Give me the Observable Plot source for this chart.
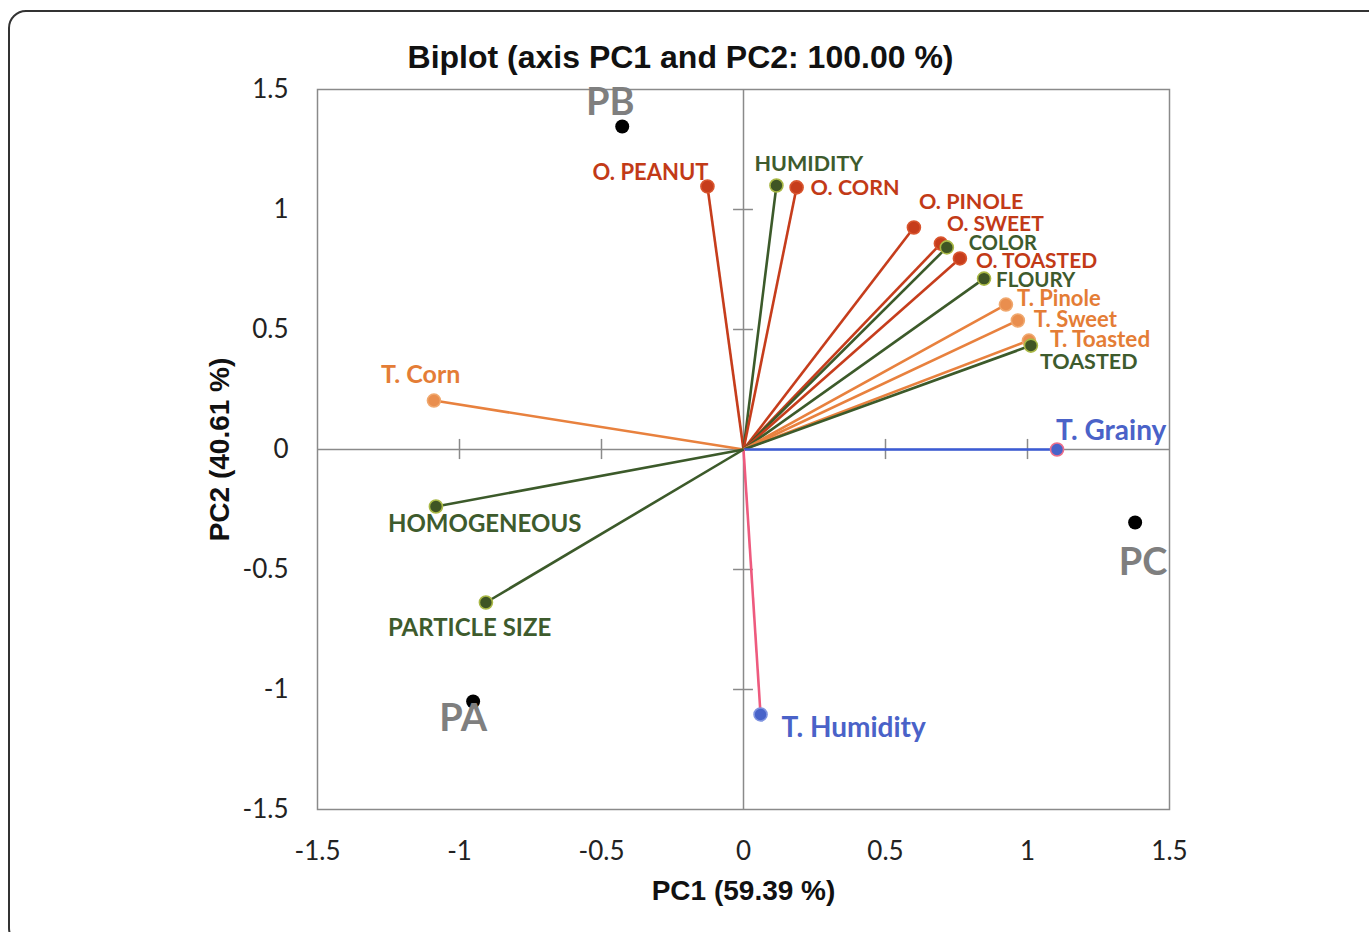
<!DOCTYPE html>
<html>
<head>
<meta charset="utf-8">
<script src="https://cdn.jsdelivr.net/npm/d3@7"></script>
<script src="https://cdn.jsdelivr.net/npm/@observablehq/plot@0.6"></script>
<style>
  html, body { margin: 0; padding: 0; background: #fff; }
  #wrap { position: relative; width: 1369px; height: 932px; overflow: hidden; }
  #border { position: absolute; left: 8px; top: 10px; width: 1400px; height: 936px;
            border: 2px solid #333; border-radius: 18px; box-sizing: border-box; }
  #chart { position: absolute; left: 0; top: 0; }
</style>
</head>
<body>
<div id="wrap"><div id="border"></div><div id="chart"></div></div>
<script>
// ---- data ----
const title = "Biplot (axis PC1 and PC2: 100.00 %)";
const xLabel = "PC1 (59.39 %)";
const yLabel = "PC2 (40.61 %)";
const tickValues = [-1.5, -1, -0.5, 0, 0.5, 1, 1.5];
const tickLabels = ["-1.5", "-1", "-0.5", "0", "0.5", "1", "1.5"];

// observations (samples)
const sampleNames = ["PB", "PA", "PC"];
const sampleX = [-0.427, -0.952, 1.379];
const sampleY = [1.346, -1.05, -0.304];

// variables (loadings)
const varNames = ["O. PEANUT", "HUMIDITY", "O. CORN", "O. PINOLE", "O. SWEET", "COLOR",
  "O. TOASTED", "FLOURY", "T. Pinole", "T. Sweet", "T. Toasted", "TOASTED",
  "T. Grainy", "T. Humidity", "T. Corn", "HOMOGENEOUS", "PARTICLE SIZE"];
const varGroup = ["odor", "attr", "odor", "odor", "odor", "attr",
  "odor", "attr", "taste", "taste", "taste", "attr",
  "texture", "texture2", "taste", "attr", "attr"];
const varX = [-0.127, 0.116, 0.187, 0.600, 0.695, 0.716, 0.762, 0.847, 0.924, 0.966, 1.005, 1.012,
  1.104, 0.060, -1.090, -1.083, -0.907];
const varY = [1.096, 1.100, 1.092, 0.925, 0.858, 0.842, 0.796, 0.712, 0.604, 0.5375, 0.454, 0.433,
  0.0, -1.104, 0.204, -0.2375, -0.6375];

// ---- styles ----
const groupStyle = {
  odor:     {line: "#c63d1c", fill: "#c63d1c", stroke: "#d9552e", label: "#c23a17"},
  attr:     {line: "#3c5a2a", fill: "#3f5524", stroke: "#a9b845", label: "#3e5b2d"},
  taste:    {line: "#e8813e", fill: "#e98e4e", stroke: "#f0a86e", label: "#e47d36"},
  texture:  {line: "#3b5bd6", fill: "#4863c9", stroke: "#ec6f8c", label: "#4a62c8"},
  texture2: {line: "#ee5a7e", fill: "#4863c9", stroke: "#7f94e0", label: "#4a62c8"}
};
// label placement relative to point: [dx, dy, anchor, fontSize]
const varLabelPlace = {
  "O. PEANUT": [1, -14, "end", 22], "HUMIDITY": [-22, -21, "start", 21.5],
  "O. CORN": [14, 1, "start", 21.5], "O. PINOLE": [5, -25, "start", 21.5],
  "O. SWEET": [6, -19, "start", 21], "COLOR": [22, -4, "start", 20],
  "O. TOASTED": [16, 3, "start", 21], "FLOURY": [12, 2, "start", 20.5],
  "T. Pinole": [11, -6, "start", 22], "T. Sweet": [16, -1, "start", 22],
  "T. Toasted": [21, -1, "start", 22.5], "TOASTED": [9, 17, "start", 21.5],
  "T. Grainy": [-1, -18, "start", 28], "T. Humidity": [21, 14, "start", 28],
  "T. Corn": [-53, -26, "start", 25], "HOMOGENEOUS": [-48, 18, "start", 24],
  "PARTICLE SIZE": [-98, 26, "start", 24]
};
const sampleLabelPlace = {"PB": [-12, -24], "PA": [-10, 17], "PC": [8, 40]};

const vars = varNames.map((n, i) => ({name: n, group: varGroup[i], x: varX[i], y: varY[i]}));
const samples = sampleNames.map((n, i) => ({name: n, x: sampleX[i], y: sampleY[i]}));
const innerTicks = tickValues.filter(v => v !== 0 && Math.abs(v) !== 1.5);

const labelFont = "Lato, 'Open Sans', sans-serif";
const arial = "'Liberation Sans', Arial, sans-serif";
const textMarks = [];
for (const d of vars) {
  const [dx, dy, anchor, fs] = varLabelPlace[d.name];
  textMarks.push(Plot.text([d], {x: "x", y: "y", text: "name", dx, dy, textAnchor: anchor,
    lineAnchor: "middle", fill: groupStyle[d.group].label, fontSize: fs, fontWeight: 700,
    fontFamily: labelFont}));
}
for (const d of samples) {
  const [dx, dy] = sampleLabelPlace[d.name];
  textMarks.push(Plot.text([d], {x: "x", y: "y", text: "name", dx, dy, lineAnchor: "middle",
    fill: "#7f7f7f", fontSize: 38, fontWeight: 700, fontFamily: labelFont}));
}

const chart = Plot.plot({
  width: 1369, height: 932,
  marginLeft: 317, marginRight: 200, marginTop: 89, marginBottom: 123,
  style: {background: "transparent", overflow: "visible"},
  x: {type: "linear", domain: [-1.5, 1.5], ticks: tickValues},
  y: {type: "linear", domain: [-1.5, 1.5], ticks: tickValues},
  marks: [
    Plot.frame({stroke: "#8a8a8a", strokeWidth: 1.5}),
    Plot.ruleX([0], {stroke: "#8a8a8a", strokeWidth: 1.5}),
    Plot.ruleY([0], {stroke: "#8a8a8a", strokeWidth: 1.5}),
    Plot.ruleX(innerTicks, {x: d => d, y1: -0.042, y2: 0.042, stroke: "#8a8a8a", strokeWidth: 1.5}),
    Plot.ruleY(innerTicks, {y: d => d, x1: -0.035, x2: 0.035, stroke: "#8a8a8a", strokeWidth: 1.5}),
    Plot.axisX({ticks: tickValues, tickFormat: (d) => tickLabels[tickValues.indexOf(d)],
      tickSize: 0, tickPadding: 32, fontSize: 26, fontFamily: labelFont, label: null, color: "#222"}),
    Plot.axisY({ticks: tickValues, tickFormat: (d) => tickLabels[tickValues.indexOf(d)],
      tickSize: 0, tickPadding: 29, fontSize: 26, fontFamily: labelFont, label: null, color: "#222"}),
    Plot.link(vars, {x1: () => 0, y1: () => 0, x2: "x", y2: "y",
      stroke: d => groupStyle[d.group].line, strokeWidth: 2.6}),
    Plot.dot(vars, {x: "x", y: "y", r: 6.5, fill: d => groupStyle[d.group].fill,
      stroke: d => groupStyle[d.group].stroke, strokeWidth: 1.6}),
    Plot.dot(samples, {x: "x", y: "y", r: 7, fill: "#000"}),
    ...textMarks,
    Plot.text([title], {frameAnchor: "top", dx: -63, dy: -32, lineAnchor: "middle",
      fontSize: 32, fontWeight: 700, fontFamily: arial, fill: "#111"}),
    Plot.text([xLabel], {frameAnchor: "bottom", dy: 82, lineAnchor: "middle",
      fontSize: 28, fontWeight: 700, fontFamily: arial, fill: "#111"}),
    Plot.text([yLabel], {frameAnchor: "left", dx: -97, rotate: -90, textAnchor: "middle",
      lineAnchor: "middle", fontSize: 28, fontWeight: 700, fontFamily: arial, fill: "#111"})
  ]
});
document.getElementById("chart").appendChild(chart);
</script>
</body>
</html>
